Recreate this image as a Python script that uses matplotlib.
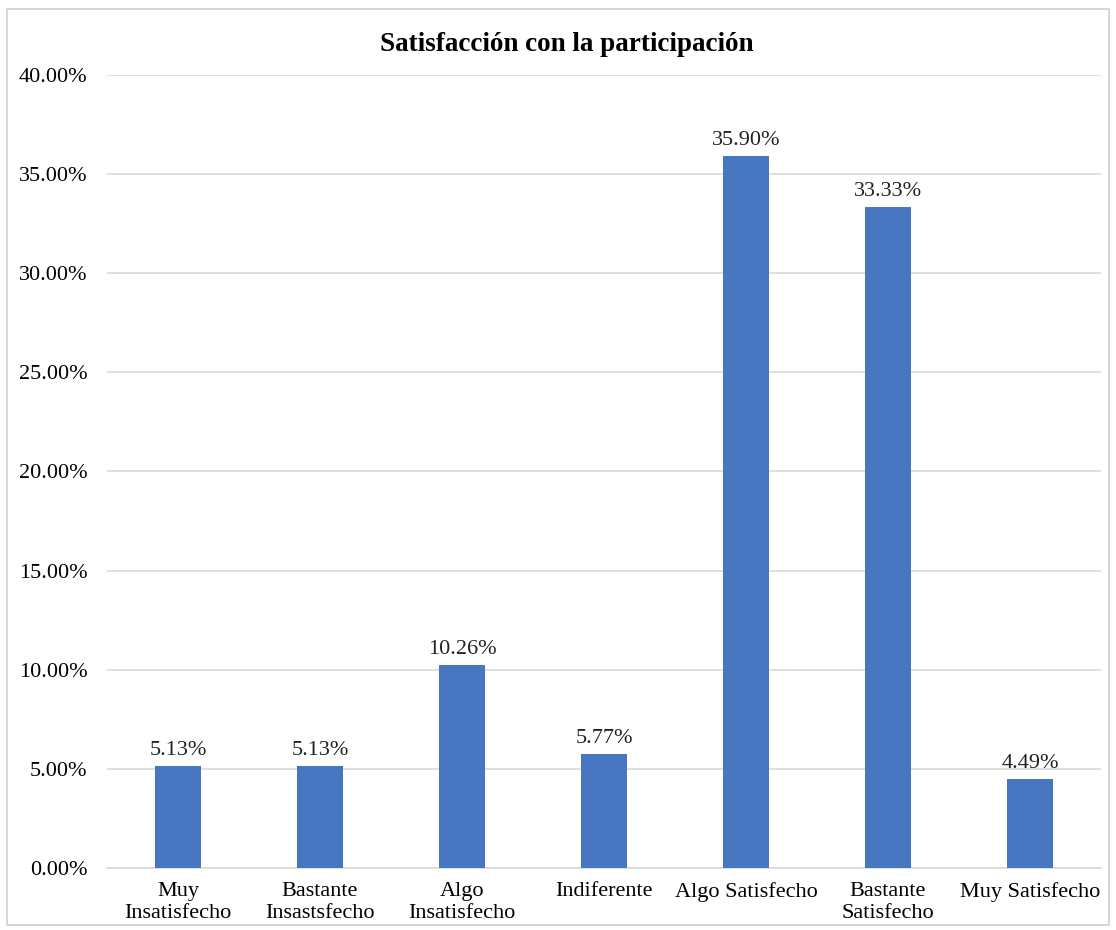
import matplotlib
matplotlib.use('Agg')
import matplotlib.pyplot as plt
from matplotlib.patches import Rectangle

categories = ['Muy\nInsatisfecho', 'Bastante\nInsastsfecho', 'Algo\nInsatisfecho',
              'Indiferente', 'Algo Satisfecho', 'Bastante\nSatisfecho', 'Muy Satisfecho']
values = [5.13, 5.13, 10.26, 5.77, 35.90, 33.33, 4.49]
yticks = [0, 5, 10, 15, 20, 25, 30, 35, 40]

plt.rcParams['font.family'] = ['Liberation Serif', 'DejaVu Serif']

fig = plt.figure(figsize=(11.16, 9.3), dpi=100)
ax = fig.add_axes([0.0959, 0.0667, 0.8907, 0.8527])

x = range(len(categories))
bars = ax.bar(x, values, width=0.32, color='#4677C0', zorder=3)
for b, v in zip(bars, values):
    ax.text(b.get_x() + b.get_width() / 2, v + 0.3, f'{v:.2f}%',
            ha='center', va='bottom', fontsize=16, color='#222222')

ax.set_xlim(-0.5, len(categories) - 0.5)
ax.set_ylim(0, 40)
ax.set_yticks(yticks)
ax.set_yticklabels([f'{t:.2f}%' for t in yticks], fontsize=16)
ax.set_xticks(list(x))
ax.set_xticklabels(categories, fontsize=16, linespacing=1.2)
ax.tick_params(axis='both', length=0)
ax.tick_params(axis='x', pad=10)
ax.tick_params(axis='y', pad=14)
ax.yaxis.grid(True, color='#d9d9d9', linewidth=1.2, zorder=0)
for s in ['top', 'right', 'left']:
    ax.spines[s].set_visible(False)
ax.spines['bottom'].set_color('#d9d9d9')
ax.spines['bottom'].set_linewidth(1.2)

fig.text(0.508, 0.952, 'Satisfacción con la participación', ha='center', va='center',
         fontsize=19.5, fontweight='bold')

fig.patches.append(Rectangle((0.006, 0.005), 0.988, 0.985, transform=fig.transFigure,
                             fill=False, edgecolor='#d0d0d0', linewidth=1.2))

fig.savefig('out.png', dpi=100)
